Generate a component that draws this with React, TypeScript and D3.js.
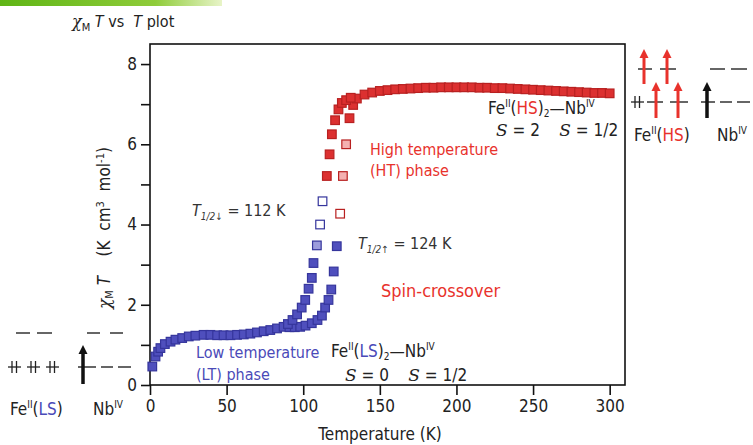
import { useEffect, useRef } from "react";
import * as d3 from "d3";

// transition temperatures (K)
const T_HALF_DOWN = 112;
const T_HALF_UP = 124;

// low temperature region, both branches
const lowTemps = [1.5, 3.6, 5.3, 6.8, 9.7, 13.4, 16.6, 21, 25.3, 29.6, 35, 39.4, 43.8, 48, 52.5, 56.8, 61.2, 65.5, 69.8, 74.2, 78.5, 82.9, 87.2];
const lowValues = [0.46, 0.71, 0.83, 0.92, 1.02, 1.08, 1.13, 1.17, 1.21, 1.23, 1.25, 1.25, 1.24, 1.24, 1.24, 1.25, 1.26, 1.28, 1.31, 1.34, 1.37, 1.41, 1.45];

// cooling branch across the hysteresis
const coolTemps = [90, 93, 96, 99, 101.3, 103.5, 105.6, 106.7, 108.9, 111, 112.6, 115.4, 117.2, 118.7, 120.8, 123, 125.2, 128, 131];
const coolValues = [1.52, 1.62, 1.76, 1.93, 2.12, 2.4, 2.67, 3.04, 3.48, 4.0, 4.58, 5.21, 5.75, 6.25, 6.6, 6.87, 7.03, 7.1, 7.16];

// warming branch across the hysteresis
const warmTemps = [91, 94.5, 98, 101.5, 105.6, 109.3, 112.2, 114.3, 116.5, 118.3, 119.9, 121.9, 124.1, 125.9, 128, 130.2, 132.6, 135];
const warmValues = [1.44, 1.44, 1.45, 1.48, 1.54, 1.62, 1.73, 1.93, 2.12, 2.38, 2.83, 3.46, 4.27, 5.21, 6.0, 6.65, 6.98, 7.14];

// high temperature plateau
const highTemps = [140, 145, 150, 155, 160, 165, 170, 175, 180, 185, 190, 195, 200, 205, 210, 215, 220, 225, 230, 235, 240, 245, 250, 255, 260, 265, 270, 275, 280, 285, 290, 295, 300];
const highValues = [7.24, 7.29, 7.33, 7.35, 7.37, 7.38, 7.39, 7.4, 7.41, 7.41, 7.42, 7.42, 7.42, 7.42, 7.42, 7.41, 7.41, 7.4, 7.4, 7.39, 7.38, 7.37, 7.36, 7.35, 7.34, 7.33, 7.32, 7.31, 7.3, 7.29, 7.28, 7.28, 7.27];

const xTicks = [0, 50, 100, 150, 200, 250, 300];
const yTicks = [0, 1, 2, 3, 4, 5, 6, 7, 8];

const FONT = "'Liberation Sans Narrow', 'DejaVu Sans Condensed', 'Noto Sans', sans-serif";
const SERIF = "'DejaVu Serif', serif";
const RED = "#e8322c";
const BLUE = "#4a4ab8";
const PRE = { whiteSpace: "pre" as const };

type Pt = { t: number; v: number; kind: "blue" | "red"; fill: "solid" | "light" | "open" };

function build(): Pt[] {
  const pts: Pt[] = [];
  lowTemps.forEach((t, i) => pts.push({ t, v: lowValues[i], kind: "blue", fill: "solid" }));
  warmTemps.forEach((t, i) => {
    const red = t >= T_HALF_UP;
    let fill: Pt["fill"] = "solid";
    if (Math.abs(t - T_HALF_UP) < 1.5) fill = "open";
    else if (t > T_HALF_UP && t < T_HALF_UP + 5) fill = "light";
    pts.push({ t, v: warmValues[i], kind: red ? "red" : "blue", fill });
  });
  coolTemps.forEach((t, i) => {
    const blue = t < T_HALF_DOWN + 1;
    let fill: Pt["fill"] = "solid";
    if (Math.abs(t - T_HALF_DOWN) < 1.5) fill = "open";
    else if (t < T_HALF_DOWN && t > T_HALF_DOWN - 4) fill = "light";
    pts.push({ t, v: coolValues[i], kind: blue ? "blue" : "red", fill });
  });
  highTemps.forEach((t, i) => pts.push({ t, v: highValues[i], kind: "red", fill: "solid" }));
  return pts;
}

const Arrow = ({ x, y1, y2, color, w = 3 }: { x: number; y1: number; y2: number; color: string; w?: number }) => (
  <g>
    <line x1={x} x2={x} y1={y1} y2={y2 + 7} stroke={color} strokeWidth={w} />
    <path d={`M${x - 4.5},${y2 + 9} L${x},${y2} L${x + 4.5},${y2 + 9} Z`} fill={color} />
  </g>
);

const Pair = ({ x, y }: { x: number; y: number }) => (
  <g stroke="#222" strokeWidth={1.3}>
    <line x1={x} x2={x + 13} y1={y} y2={y} />
    <line x1={x + 4} x2={x + 4} y1={y - 6} y2={y + 6} />
    <line x1={x + 8.5} x2={x + 8.5} y1={y - 6} y2={y + 6} />
  </g>
);

const Dash = ({ x1, x2, y }: { x1: number; x2: number; y: number }) => (
  <line x1={x1} x2={x2} y1={y} y2={y} stroke="#333" strokeWidth={1.5} />
);

export default function App() {
  const ref = useRef<SVGGElement | null>(null);

  useEffect(() => {
    document.body.style.margin = "0";
    if (!ref.current) return;
    const g = d3.select(ref.current);
    g.selectAll("*").remove();

    const x = d3.scaleLinear().domain([0, 310]).range([150, 625]);
    const y = d3.scaleLinear().domain([0, 8.5]).range([385, 44]);

    // frame
    g.append("rect")
      .attr("x", x(0))
      .attr("y", y(8.5))
      .attr("width", x(310) - x(0))
      .attr("height", y(0) - y(8.5))
      .attr("fill", "none")
      .attr("stroke", "#111")
      .attr("stroke-width", 1.6);

    const xAxis = g
      .append("g")
      .attr("transform", `translate(0,${y(0)})`)
      .call(d3.axisBottom(x).tickValues(xTicks).tickSize(10).tickPadding(5));
    xAxis.select(".domain").remove();
    xAxis.selectAll("line").attr("stroke", "#111").attr("stroke-width", 1.6);
    xAxis.selectAll("text").attr("font-family", FONT).attr("font-size", 17).attr("fill", "#222");

    const yAxis = g
      .append("g")
      .attr("transform", `translate(${x(0)},0)`)
      .call(
        d3
          .axisLeft(y)
          .tickValues(yTicks)
          .tickSize(9)
          .tickPadding(4)
          .tickFormat((d) => ((d as number) % 2 === 0 ? String(d) : ""))
      );
    yAxis.select(".domain").remove();
    yAxis.selectAll("line").attr("stroke", "#111").attr("stroke-width", 1.6);
    yAxis.selectAll("text").attr("font-family", FONT).attr("font-size", 17).attr("fill", "#222");

    const pts = build();
    const s = 8.6;
    g.append("g")
      .selectAll("rect")
      .data(pts)
      .join("rect")
      .attr("x", (d) => x(d.t) - s / 2)
      .attr("y", (d) => y(d.v) - s / 2)
      .attr("width", s)
      .attr("height", s)
      .attr("fill", (d) => {
        if (d.fill === "open") return "#fff";
        if (d.kind === "blue") return d.fill === "light" ? "#9c9cdc" : "#4f4fbd";
        return d.fill === "light" ? "#f4b0b0" : "#dc3030";
      })
      .attr("stroke", (d) => (d.kind === "blue" ? "#35359c" : "#b82020"))
      .attr("stroke-width", 1.2);
  }, []);

  return (
    <svg width={753} height={445} style={{ display: "block", background: "#fff" }}>
      <defs>
        <linearGradient id="topbar" x1="0" x2="1" y1="0" y2="0">
          <stop offset="0" stopColor="#5fb515" />
          <stop offset="0.7" stopColor="#8fcc3a" />
          <stop offset="1" stopColor="#e8f4c8" />
        </linearGradient>
      </defs>
      <rect x={0} y={0} width={222} height={6} fill="url(#topbar)" />

      <text x={72} y={27} fontFamily={FONT} fontSize={16} fill="#222" style={PRE}>
        <tspan fontStyle="italic" fontFamily={SERIF}>χ</tspan>
        <tspan fontSize={11} dy={4}>M</tspan>
        <tspan dy={-4} fontStyle="italic">{" T"}</tspan>
        <tspan>{" vs  "}</tspan>
        <tspan fontStyle="italic">T</tspan>
        <tspan>{" plot"}</tspan>
      </text>

      <g ref={ref} />

      {/* axis titles */}
      <text x={380} y={440} textAnchor="middle" fontFamily={FONT} fontSize={17} fill="#222">
        Temperature (K)
      </text>
      <text transform="translate(110,228) rotate(-90)" textAnchor="middle" fontFamily={FONT} fontSize={17} fill="#222" style={PRE}>
        <tspan fontStyle="italic" fontFamily={SERIF}>χ</tspan>
        <tspan fontSize={11} dy={3}>M</tspan>
        <tspan dy={-3} fontStyle="italic">{" T"}</tspan>
        <tspan>{"    (K  cm"}</tspan>
        <tspan fontSize={11} dy={-6}>3</tspan>
        <tspan dy={6}>{"  mol"}</tspan>
        <tspan fontSize={11} dy={-6}>-1</tspan>
        <tspan dy={6}>)</tspan>
      </text>

      {/* annotations */}
      <text x={192} y={216} fontFamily={FONT} fontSize={16} fill="#333" style={PRE}>
        <tspan fontStyle="italic">T</tspan>
        <tspan fontSize={10} dy={4} fontStyle="italic">1/2↓</tspan>
        <tspan dy={-4}>{" = 112 K"}</tspan>
      </text>
      <text x={358} y={249} fontFamily={FONT} fontSize={16} fill="#333" style={PRE}>
        <tspan fontStyle="italic">T</tspan>
        <tspan fontSize={10} dy={4} fontStyle="italic">1/2↑</tspan>
        <tspan dy={-4}>{" = 124 K"}</tspan>
      </text>
      <text x={370} y={155} fontFamily={FONT} fontSize={16} fill={RED}>High temperature</text>
      <text x={370} y={176} fontFamily={FONT} fontSize={16} fill={RED}>(HT) phase</text>
      <text x={381} y={297} fontFamily={FONT} fontSize={18} fill={RED}>Spin-crossover</text>
      <text x={196} y={358} fontFamily={FONT} fontSize={16} fill={BLUE}>Low temperature</text>
      <text x={196} y={380} fontFamily={FONT} fontSize={16} fill={BLUE}>(LT) phase</text>

      <text x={331} y={357} fontFamily={FONT} fontSize={17} fill="#222">
        Fe<tspan fontSize={10} dy={-7}>II</tspan>
        <tspan dy={7}>(</tspan>
        <tspan fill={BLUE}>LS</tspan>)<tspan fontSize={10} dy={3}>2</tspan>
        <tspan dy={-3}>—Nb</tspan>
        <tspan fontSize={10} dy={-7}>IV</tspan>
      </text>
      <text x={345} y={381} fontFamily={FONT} fontSize={17} fill="#222" style={PRE}>
        <tspan fontStyle="italic" fontFamily={SERIF}>S</tspan>
        <tspan>{" = 0    "}</tspan>
        <tspan fontStyle="italic" fontFamily={SERIF}>S</tspan>
        <tspan>{" = 1/2"}</tspan>
      </text>

      <text x={488} y={114} fontFamily={FONT} fontSize={17} fill="#222">
        Fe<tspan fontSize={10} dy={-7}>II</tspan>
        <tspan dy={7}>(</tspan>
        <tspan fill={RED}>HS</tspan>)<tspan fontSize={10} dy={3}>2</tspan>
        <tspan dy={-3}>—Nb</tspan>
        <tspan fontSize={10} dy={-7}>IV</tspan>
      </text>
      <text x={496} y={136} fontFamily={FONT} fontSize={17} fill="#222" style={PRE}>
        <tspan fontStyle="italic" fontFamily={SERIF}>S</tspan>
        <tspan>{" = 2    "}</tspan>
        <tspan fontStyle="italic" fontFamily={SERIF}>S</tspan>
        <tspan>{" = 1/2"}</tspan>
      </text>

      {/* LS level diagram */}
      <Dash x1={16} x2={30} y={333} />
      <Dash x1={37} x2={52} y={333} />
      <Pair x={8} y={367} />
      <Pair x={27} y={367} />
      <Pair x={46} y={367} />
      <Dash x1={87} x2={100} y={333} />
      <Dash x1={110} x2={123} y={333} />
      <Dash x1={78} x2={96} y={367} />
      <Dash x1={101} x2={113} y={367} />
      <Dash x1={118} x2={131} y={367} />
      <Arrow x={83} y1={384} y2={345} color="#111" w={3.5} />
      <text x={10} y={415} fontFamily={FONT} fontSize={17} fill="#222">
        Fe<tspan fontSize={10} dy={-7}>II</tspan>
        <tspan dy={7}>(</tspan>
        <tspan fill={BLUE}>LS</tspan>)
      </text>
      <text x={93} y={415} fontFamily={FONT} fontSize={17} fill="#222">
        Nb<tspan fontSize={10} dy={-7}>IV</tspan>
      </text>

      {/* HS level diagram */}
      <Dash x1={638} x2={652} y={69} />
      <Dash x1={660} x2={676} y={69} />
      <Pair x={631} y={102} />
      <Dash x1={647} x2={663} y={102} />
      <Dash x1={670} x2={688} y={102} />
      <Arrow x={644} y1={84} y2={49} color={RED} />
      <Arrow x={667} y1={84} y2={49} color={RED} />
      <Arrow x={656} y1={118} y2={82} color={RED} />
      <Arrow x={678} y1={118} y2={82} color={RED} />
      <Dash x1={710} x2={725} y={69} />
      <Dash x1={731} x2={747} y={69} />
      <Dash x1={701} x2={715} y={102} />
      <Dash x1={720} x2={732} y={102} />
      <Dash x1={737} x2={750} y={102} />
      <Arrow x={707} y1={118} y2={82} color="#111" w={3.5} />
      <text x={634} y={141} fontFamily={FONT} fontSize={17} fill="#222">
        Fe<tspan fontSize={10} dy={-7}>II</tspan>
        <tspan dy={7}>(</tspan>
        <tspan fill={RED}>HS</tspan>)
      </text>
      <text x={717} y={141} fontFamily={FONT} fontSize={17} fill="#222">
        Nb<tspan fontSize={10} dy={-7}>IV</tspan>
      </text>
    </svg>
  );
}
